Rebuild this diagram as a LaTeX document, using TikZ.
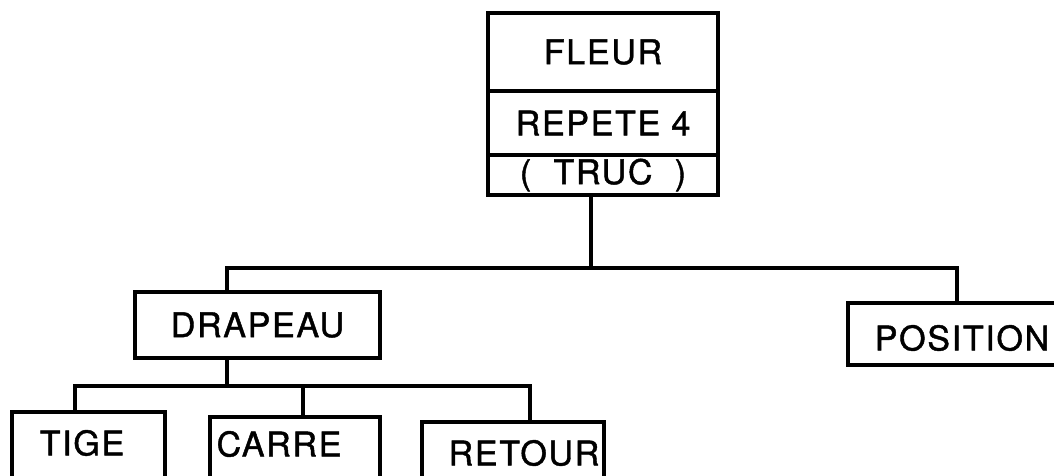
\documentclass[tikz,border=0pt]{standalone}
\usepackage{fontspec}
\setmainfont{TeX Gyre Heros}[LetterSpace=5, FakeBold=1.3]
\begin{document}
\begin{tikzpicture}[x=1pt,y=-1pt,
  box/.style={draw=black, line width=4pt, rectangle, inner sep=0pt, outer sep=0pt},
  lbl/.style={inner sep=0pt, font=\fontsize{34}{40}\selectfont},
  wire/.style={draw=black, line width=4pt, line cap=rect}]
\useasboundingbox (0,0) rectangle (1054,476);
\clip (0,0) rectangle (1054,476);
% top stacked box
\node[box, lbl, minimum width=230pt, minimum height=78pt] (fleur) at (603,52) {FLEUR};
\node[box, lbl, minimum width=230pt, minimum height=64pt] (repete) at (603,123) {REPETE 4};
\node[box, lbl, minimum width=230pt, minimum height=40pt] (truc) at (603,175) {(\ \ TRUC\ \ )};
% second level
\node[box, lbl, minimum width=245pt, minimum height=66pt] (drapeau) at (257.5,325) {DRAPEAU};
\node[box, minimum width=232pt, minimum height=62pt] (positionbox) at (964,334) {};
\node[lbl] (position) at (962,338) {POSITION};
% third level
\node[box, minimum width=153pt, minimum height=88pt] (tigebox) at (88.5,456) {};
\node[lbl] (tige) at (82,443) {TIGE};
\node[box, minimum width=170pt, minimum height=83pt] (carrebox) at (295,458.5) {};
\node[lbl] (carre) at (279,444) {CARRE};
\node[box, minimum width=182pt, minimum height=78pt] (retourbox) at (513,461) {};
\node[lbl] (retour) at (524,453) {RETOUR};
% junctions
\coordinate (j0) at (591,268);
\coordinate (jL) at (227,268);
\coordinate (jR) at (957,268);
\coordinate (k0) at (227,386);
\coordinate (kL) at (75,386);
\coordinate (kM) at (303,386);
\coordinate (kR) at (530,386);
% connectors
\draw[wire] (truc.south -| j0) -- (j0);
\draw[wire] (drapeau.north -| jL) -- (jL) -- (jR) -- (positionbox.north -| jR);
\draw[wire] (drapeau.south -| k0) -- (k0);
\draw[wire] (tigebox.north -| kL) -- (kL) -- (kR) -- (retourbox.north -| kR);
\draw[wire] (kM) -- (carrebox.north -| kM);
\end{tikzpicture}
\end{document}
